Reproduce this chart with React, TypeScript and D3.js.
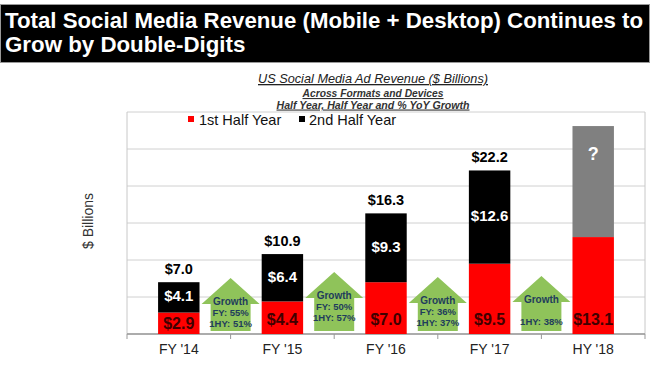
import React from "react";
import * as d3 from "d3";

const categories = ["FY '14", "FY '15", "FY '16", "FY '17", "HY '18"];
const firstHalf = [2.9, 4.4, 7.0, 9.5, 13.1];
const secondHalf = [4.1, 6.4, 9.3, 12.6, 15.0];
const totals = ["$7.0", "$10.9", "$16.3", "$22.2", ""];
const firstLabels = ["$2.9", "$4.4", "$7.0", "$9.5", "$13.1"];
const secondLabels = ["$4.1", "$6.4", "$9.3", "$12.6", "?"];
const growthFY = ["FY: 55%", "FY: 50%", "FY: 36%", ""];
const growthHY = ["1HY: 51%", "1HY: 57%", "1HY: 37%", "1HY: 38%"];
const yTicks = [0, 5, 10, 15, 20, 25, 30];

const W = 650, H = 365;
const plot = { left: 127, right: 645, top: 112, bottom: 334 };
const FONT = "'Liberation Sans', Arial, sans-serif";

export default function App() {
  const x = d3.scaleBand<string>().domain(categories).range([plot.left, plot.right]).paddingInner(0.6).paddingOuter(0.3);
  const xb = d3.scaleBand<string>().domain(categories).range([plot.left, plot.right]);
  const y = d3.scaleLinear().domain([0, 30]).range([plot.bottom, plot.top]);
  const bw = x.bandwidth();

  const arrowPath = (cx: number, apexY: number) => {
    const hw = 29, sw = 20, headBase = apexY + 26, bottom = 331;
    return `M${cx},${apexY} L${cx + hw},${headBase} L${cx + sw},${headBase} L${cx + sw},${bottom} L${cx - sw},${bottom} L${cx - sw},${headBase} L${cx - hw},${headBase} Z`;
  };
  const apexes = [278, 272, 277, 276];

  return (
    <svg width={W} height={H} style={{ position: "fixed", left: 0, top: 0, background: "#fff" }} fontFamily={FONT}>
      <rect x={0} y={0} width={W} height={H} fill="#fff" />
      <rect x={0.5} y={4.5} width={649} height={58} fill="#000" stroke="#999" />
      <text x={5} y={28} fill="#fff" fontSize={22.3} fontWeight="bold" textLength={638} lengthAdjust="spacingAndGlyphs">Total Social Media Revenue (Mobile + Desktop) Continues to</text>
      <text x={5} y={52} fill="#fff" fontSize={22.3} fontWeight="bold">Grow by Double-Digits</text>

      <text x={373} y={83} textAnchor="middle" fontSize={13} fontStyle="italic" textDecoration="underline" fill="#222" textLength={230} lengthAdjust="spacingAndGlyphs">US Social Media Ad Revenue ($ Billions)</text>
      <text x={373} y={97} textAnchor="middle" fontSize={11} fontStyle="italic" fontWeight="bold" textDecoration="underline" fill="#333" textLength={141} lengthAdjust="spacingAndGlyphs">Across Formats and Devices</text>
      <text x={373} y={108.5} textAnchor="middle" fontSize={11} fontStyle="italic" fontWeight="bold" textDecoration="underline" fill="#333" textLength={193} lengthAdjust="spacingAndGlyphs">Half Year, Half Year and % YoY Growth</text>

      {yTicks.map((t) => (
        <line key={t} x1={plot.left} x2={plot.right} y1={y(t)} y2={y(t)} stroke="#d0d0d0" strokeWidth={1} />
      ))}
      <line x1={plot.left} x2={plot.left} y1={plot.top} y2={plot.bottom} stroke="#c8c8c8" />
      <line x1={plot.right} x2={plot.right} y1={plot.top} y2={plot.bottom} stroke="#c8c8c8" />
      <line x1={plot.left} x2={plot.right} y1={plot.bottom} y2={plot.bottom} stroke="#999" strokeWidth={1.5} />
      {categories.map((c) => (
        <line key={c} x1={xb(c)!} x2={xb(c)!} y1={plot.bottom} y2={plot.bottom + 5} stroke="#999" />
      ))}
      <line x1={plot.right} x2={plot.right} y1={plot.bottom} y2={plot.bottom + 5} stroke="#999" />

      <rect x={188} y={116} width={6} height={6} fill="#ff0000" />
      <text x={199} y={125} fontSize={14.5} fill="#111">1st Half Year</text>
      <rect x={299} y={116} width={6} height={6} fill="#000" />
      <text x={309} y={125} fontSize={14.5} fill="#111">2nd Half Year</text>

      <text transform={`translate(93,${(plot.top + plot.bottom) / 2 - 2}) rotate(-90)`} textAnchor="middle" fontSize={14} fill="#333">$ Billions</text>

      {categories.map((c, i) => {
        const x0 = x(c)!;
        const cx = x0 + bw / 2;
        const y1 = y(firstHalf[i]);
        const y2 = y(firstHalf[i] + secondHalf[i]);
        const last = i === categories.length - 1;
        return (
          <g key={c}>
            <rect x={x0} y={y1} width={bw} height={plot.bottom - y1} fill="#ff0000" />
            <rect x={x0} y={y2} width={bw} height={y1 - y2} fill={last ? "#808080" : "#000"} />
            {totals[i] && (
              <text x={cx} y={y2 - 8} textAnchor="middle" fontSize={14.5} fontWeight="bold" fill="#000">{totals[i]}</text>
            )}
            <text x={cx} y={last ? y2 + 34 : (y1 + y2) / 2 + 4} textAnchor="middle" fontSize={last ? 18 : 15} fontWeight="bold" fill="#fff">{secondLabels[i]}</text>
            <text x={cx} y={Math.max((y1 + plot.bottom) / 2 + 6, plot.bottom - 9)} textAnchor="middle" fontSize={16} fontWeight="bold" fill="#400000">{firstLabels[i]}</text>
            <text x={cx} y={354} textAnchor="middle" fontSize={14} fill="#222">{c}</text>
          </g>
        );
      })}

      {growthHY.map((g, i) => {
        const cx = xb(categories[i + 1])!;
        const a = apexes[i];
        const hasFY = growthFY[i] !== "";
        return (
          <g key={i}>
            <path d={arrowPath(cx, a)} fill="#8fc35a" />
            <text x={cx} y={a + 27} textAnchor="middle" fontSize={10} fontWeight="bold" fill="#1f3d5c">Growth</text>
            {hasFY && <text x={cx} y={a + 38} textAnchor="middle" fontSize={9.5} fontWeight="bold" fill="#1f3d5c">{growthFY[i]}</text>}
            <text x={cx} y={a + 49} textAnchor="middle" fontSize={9.5} fontWeight="bold" fill="#1f3d5c">{g}</text>
          </g>
        );
      })}
    </svg>
  );
}
